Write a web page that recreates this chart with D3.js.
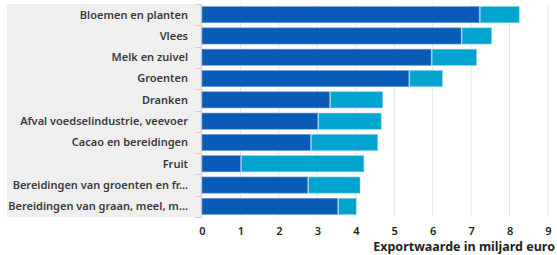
<!DOCTYPE html>
<html lang="nl">
<head>
<meta charset="UTF-8">
<title>Export</title>
<script src="https://cdn.jsdelivr.net/npm/d3@7"></script>
<style>
body{margin:0;background:#fff;}
svg{display:block;}
.lbl{font-family:"Noto Sans",sans-serif;font-weight:600;font-size:11px;fill:#3a3a3a;}
.tick text{font-family:"Noto Sans",sans-serif;font-weight:600;font-size:11px;fill:#222;}
</style>
</head>
<body>
<script>
// categorieen en waarden (miljard euro)
var categories=["Bloemen en planten","Vlees","Melk en zuivel","Groenten","Dranken",
  "Afval voedselindustrie, veevoer","Cacao en bereidingen","Fruit",
  "Bereidingen van groenten en fr...","Bereidingen van graan, meel, m..."];
var eigen=[7.21,6.74,5.96,5.38,3.32,3.01,2.82,1.0,2.75,3.53];
var wederuitvoer=[1.04,0.79,1.18,0.87,1.38,1.65,1.75,3.21,1.36,0.48];
var ticks=[0,1,2,3,4,5,6,7,8,9];
var xTitle="Exportwaarde in miljard euro";

var W=557,H=255;
var svg=d3.select("body").append("svg").attr("width",W).attr("height",H);

var x=d3.scaleLinear().domain([0,9]).range([202,548]);
var y=d3.scaleBand().domain(categories).range([4,217]).paddingInner(0.24).paddingOuter(0.12);

// grijs label vlak
svg.append("rect").attr("x",7).attr("y",4).attr("width",195).attr("height",213).attr("fill","#efefef");

// rasterlijnen
svg.selectAll("line.grid").data(ticks.slice(1)).enter().append("line")
  .attr("x1",function(d){return x(d)}).attr("x2",function(d){return x(d)})
  .attr("y1",4).attr("y2",217).attr("stroke","#e6e6e6").attr("stroke-width",1);

// scheidingsstreepjes
var step=y.step();
svg.selectAll("line.sep").data(d3.range(categories.length+1)).enter().append("line")
  .attr("x1",195).attr("x2",202)
  .attr("y1",function(i){return Math.round(y(categories[0])-y.paddingInner()*step/2+i*step)+0.5})
  .attr("y2",function(i){return Math.round(y(categories[0])-y.paddingInner()*step/2+i*step)+0.5})
  .attr("stroke","#d0d0d0");
svg.append("line").attr("x1",201.5).attr("x2",201.5).attr("y1",4).attr("y2",217).attr("stroke","#d4d4d4").attr("stroke-width",1.5);

// balken
var g=svg.append("g");
g.selectAll("rect.a").data(categories).enter().append("rect")
  .attr("x",x(0)).attr("y",function(d){return y(d)})
  .attr("width",function(d,i){return x(eigen[i])-x(0)})
  .attr("height",y.bandwidth()).attr("fill","#0a5ab7").attr("stroke","#6f9fd8").attr("stroke-width",0.6);
g.selectAll("rect.b").data(categories).enter().append("rect")
  .attr("x",function(d,i){return x(eigen[i])+1}).attr("y",function(d){return y(d)})
  .attr("width",function(d,i){return x(eigen[i]+wederuitvoer[i])-x(eigen[i])-1})
  .attr("height",y.bandwidth()).attr("fill","#00a4cf").attr("stroke","#7fd0e6").attr("stroke-width",0.6);

// labels
svg.selectAll("text.lbl").data(categories).enter().append("text").attr("class","lbl")
  .attr("x",188).attr("y",function(d){return y(d)+y.bandwidth()/2}).attr("dy","0.35em")
  .attr("text-anchor","end").text(function(d){return d});

// x-as
var ax=svg.append("g").attr("transform","translate(0,222)")
  .call(d3.axisBottom(x).tickValues(ticks).tickSize(0).tickPadding(5));
ax.select(".domain").remove();

svg.append("text").attr("x",555).attr("y",251).attr("text-anchor","end")
  .style("font-family","Noto Sans, sans-serif").style("font-weight","700").style("font-size","12.5px").style("fill","#222")
  .text(xTitle);
</script>
</body>
</html>
